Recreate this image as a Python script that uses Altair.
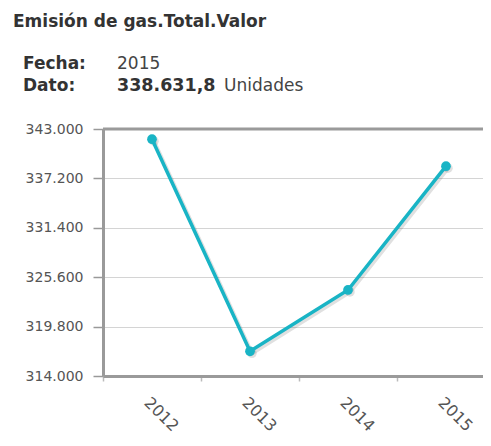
import altair as alt
import pandas as pd

# ---- data ----
years = ["2012", "2013", "2014", "2015"]
values = [341800, 316900, 324100, 338631.8]
y_ticks = [314000, 319800, 325600, 331400, 337200, 343000]

title_text = "Emisión de gas.Total.Valor"
label_fecha = "Fecha:"
label_dato = "Dato:"
fecha_value = "2015"
dato_value = "338.631,8"
dato_unit = "Unidades"

df = pd.DataFrame({"year": years, "value": values})

FONT = "DejaVu Sans"
LINE_COLOR = "#19b4c5"
FRAME = "#9a9a9a"

x_enc = alt.X(
    "year:O",
    bandPosition=0.5,
    scale=alt.Scale(type="band", range=[0, 392], paddingInner=0, paddingOuter=0),
    axis=alt.Axis(
        title=None, grid=False, tickBand="extent", ticks=True, tickSize=5,
        tickColor="#bbbbbb", tickWidth=1.5, domain=True, domainColor=FRAME,
        domainWidth=3, labelAngle=45, labelAlign="left", labelBaseline="top",
        labelFontSize=16, labelColor="#555555", labelPadding=13, labelFont=FONT,
    ),
)
y_enc = alt.Y(
    "value:Q",
    scale=alt.Scale(domain=[314000, 343000], nice=False, zero=False),
    axis=alt.Axis(
        title=None, values=y_ticks, grid=True, gridColor="#d4d4d4", gridWidth=1,
        domain=True, domainColor=FRAME, domainWidth=3, tickColor="#999999",
        tickSize=10, tickWidth=1.5, labelFontSize=14, labelColor="#555555",
        labelPadding=10, labelFont=FONT,
        labelExpr="replace(format(datum.value, ',.0f'), ',', '.')",
    ),
)

base = alt.Chart(df)

shadow = base.mark_line(color="#000000", opacity=0.12, strokeWidth=4, xOffset=2, yOffset=2).encode(x=x_enc, y=y_enc)
pshadow = base.mark_point(filled=True, color="#000000", opacity=0.12, size=90, xOffset=2, yOffset=2).encode(x=x_enc, y=y_enc)
line = base.mark_line(color=LINE_COLOR, strokeWidth=3.5).encode(x=x_enc, y=y_enc)
points = base.mark_point(filled=True, color=LINE_COLOR, size=95, opacity=1).encode(x=x_enc, y=y_enc)

top_rule = alt.Chart(pd.DataFrame({"a": [0]})).mark_rule(color=FRAME, strokeWidth=3).encode(
    x=alt.value(0), x2=alt.value(392), y=alt.value(0)
)


def txt(s, x, y, size, bold=False, color="#333333"):
    return alt.Chart(pd.DataFrame({"t": [s]})).mark_text(
        align="left", baseline="alphabetic", font=FONT, fontSize=size,
        fontWeight="bold" if bold else "normal", color=color,
    ).encode(text="t:N", x=alt.value(x), y=alt.value(y))


texts = [
    txt(title_text, -90, -102, 17, bold=True, color="#333333"),
    txt(label_fecha, -80, -60, 17, bold=True, color="#333333"),
    txt(fecha_value, 14, -60, 17, color="#444444"),
    txt(label_dato, -80, -38, 17, bold=True, color="#333333"),
    txt(dato_value, 14, -38, 17.5, bold=True, color="#333333"),
    txt(dato_unit, 121, -38, 17, color="#444444"),
]

chart = alt.layer(shadow, pshadow, line, points, top_rule, *texts).properties(
    width=380,
    height=247,
    autosize=alt.AutoSizeParams(type="none"),
    padding={"left": 95, "top": 121, "right": 0, "bottom": 62},
).configure_view(stroke=None)

chart.save("out.html", embed_options={"renderer": "svg", "actions": False})
